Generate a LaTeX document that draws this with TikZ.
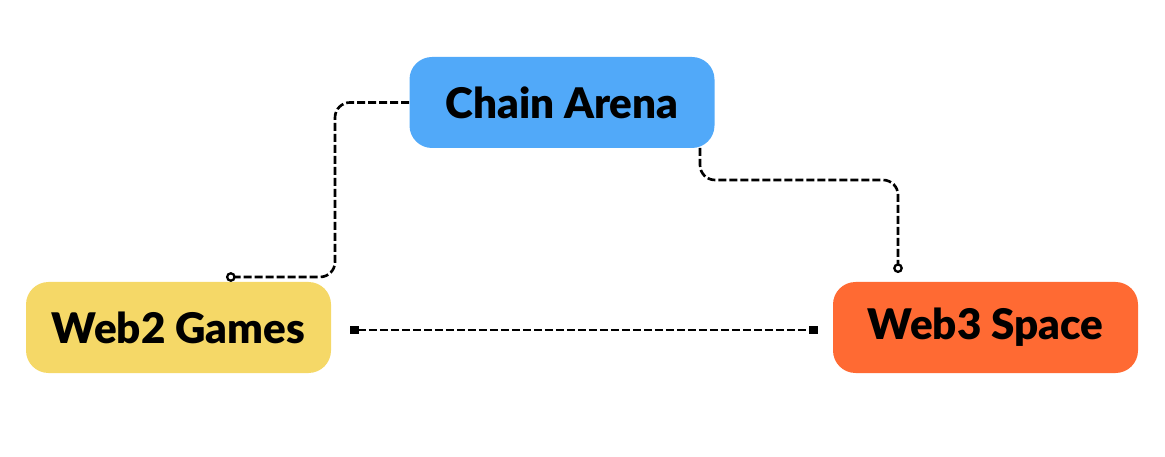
\documentclass[tikz,border=0pt]{standalone}
\usepackage{fontspec}
\setmainfont{Lato}
\newfontfamily\heavyfont{Lato Black}
\usetikzlibrary{arrows,arrows.meta}
\usetikzlibrary{calc}
\definecolor{arenablue}{RGB}{81,169,249}
\definecolor{webyellow}{RGB}{245,216,103}
\definecolor{weborange}{RGB}{255,106,51}

\begin{document}
\begin{tikzpicture}[
    box/.style={rounded corners=0.45cm, minimum width=6.1cm, minimum height=1.82cm, font=\fontsize{24}{29}\selectfont\heavyfont},
    link/.style={line width=1.5pt, dash pattern=on 0.16cm off 0.06cm, rounded corners=0.3cm}
  ]

    \useasboundingbox (0,0) rectangle (23.3,9.12);

    \node[box, fill=arenablue] (arena) at (11.24,7.07) {Chain Arena};
    \node[box, fill=webyellow] (webtwo) at (3.57,2.57) {Web2 Games};
    \node[box, fill=weborange] (webthree) at (19.71,2.57) {Web3 Space};

    \coordinate (endtwo) at (4.52,3.58);
    \coordinate (endthree) at (17.96,3.66);
    \coordinate (sqleft) at ($(webtwo.east)+(0.38,-0.05)$);
    \coordinate (sqright) at ($(webthree.west)+(-0.3,-0.05)$);

    \draw[link, -{Circle[open, length=5.5pt, line width=1.3pt]}] (arena.west) -| (6.70,3.58) -- (endtwo);
    \draw[link, -{Circle[open, length=5.5pt, line width=1.3pt]}] (14.0,6.16) |- (17.96,5.52) -- (endthree);

    \draw[link, {Square[length=5pt, width=5pt]}-{Square[length=5pt, width=5pt]}] (sqleft) -- (sqright);

\end{tikzpicture}
\end{document}
